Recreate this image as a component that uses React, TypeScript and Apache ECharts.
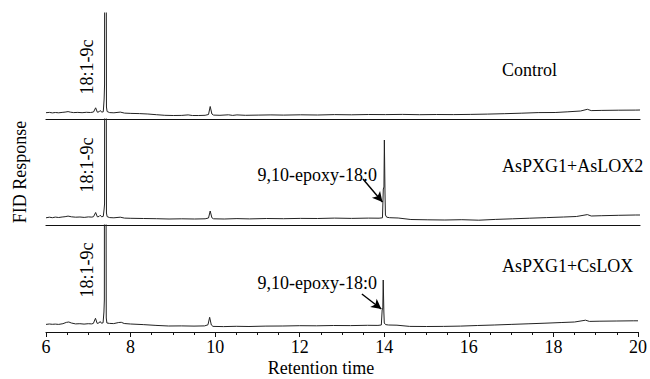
import React, { useEffect, useRef } from "react";
import * as echarts from "echarts";

const xMin = 6;
const xMax = 20;
const xStep = 2;

const panelNames = ["Control", "AsPXG1+AsLOX2", "AsPXG1+CsLOX"];
const peakLabel = "18:1-9c";
const epoxyLabel = "9,10-epoxy-18:0";
const yAxisTitle = "FID Response";
const xAxisTitle = "Retention time";

const controlTrace: [number, number][] = [
  [6.0, 6.3], [6.08, 6.6], [6.15, 6.1], [6.22, 6.5], [6.3, 6.2], [6.38, 6.6], [6.45, 6.9], [6.52, 7.4],
  [6.58, 6.8], [6.65, 6.4], [6.75, 6.6], [6.85, 6.3], [6.95, 6.7], [7.05, 6.5], [7.12, 7.0], [7.17, 11.2],
  [7.21, 6.8], [7.25, 7.2], [7.28, 8.5], [7.31, 6.9], [7.35, 7.2], [7.37, 20], [7.38, 34], [7.385, 300],
  [7.415, 300], [7.425, 12], [7.44, 7.5], [7.5, 6.4], [7.6, 6.2], [7.75, 6.9], [7.85, 5.9], [8.0, 5.6],
  [8.2, 5.4], [8.4, 5.0], [8.6, 4.3], [8.8, 3.7], [9.0, 3.5], [9.2, 3.6], [9.35, 4.1], [9.45, 3.5],
  [9.6, 3.5], [9.75, 3.7], [9.83, 4.5], [9.87, 12.5], [9.91, 5.0], [9.95, 3.9], [10.1, 3.7], [10.3, 4.2],
  [10.4, 3.6], [10.5, 4.1], [10.7, 3.7], [11.0, 3.9], [11.3, 4.1], [11.6, 3.9], [12.0, 4.2], [12.4, 4.0],
  [12.8, 4.4], [13.2, 4.2], [13.6, 4.5], [14.0, 4.4], [14.4, 4.6], [14.8, 4.3], [15.2, 4.5], [15.6, 4.4],
  [16.0, 4.6], [16.4, 4.9], [16.8, 5.3], [17.2, 5.8], [17.6, 6.4], [18.0, 6.5], [18.3, 7.2], [18.6, 8.0],
  [18.76, 9.7], [18.85, 8.4], [19.1, 8.6], [19.5, 8.8], [19.9, 8.9], [20.0, 9.0],
];

const lox2Trace: [number, number][] = [
  [6.0, 7.2], [6.08, 7.8], [6.15, 7.3], [6.22, 7.9], [6.3, 7.5], [6.38, 8.0], [6.45, 8.3], [6.52, 8.9],
  [6.6, 8.2], [6.7, 7.8], [6.8, 8.0], [6.9, 7.6], [7.0, 8.1], [7.08, 7.9], [7.12, 8.3], [7.17, 12.5],
  [7.21, 8.2], [7.25, 8.5], [7.28, 9.8], [7.31, 8.2], [7.35, 8.6], [7.37, 16], [7.38, 21], [7.385, 300],
  [7.415, 300], [7.425, 12], [7.44, 8.4], [7.5, 7.4], [7.6, 7.2], [7.75, 7.8], [7.85, 6.9], [8.0, 6.7],
  [8.3, 6.5], [8.6, 6.3], [8.9, 6.0], [9.2, 6.2], [9.5, 6.0], [9.75, 6.2], [9.83, 7.0], [9.87, 14],
  [9.91, 7.2], [9.95, 6.2], [10.2, 6.0], [10.5, 6.4], [10.8, 6.1], [11.2, 6.5], [11.6, 6.3], [12.0, 6.6],
  [12.4, 6.5], [12.8, 6.9], [13.2, 6.6], [13.6, 6.9], [13.85, 6.8], [13.93, 7.2], [13.95, 36], [13.965, 38],
  [13.975, 85], [13.99, 32], [14.0, 10], [14.03, 7.8], [14.1, 7.3], [14.3, 7.0], [14.6, 5.5], [15.0, 5.2],
  [15.4, 5.0], [15.8, 5.3], [16.2, 4.8], [16.6, 5.6], [17.0, 6.2], [17.4, 6.8], [17.8, 7.4], [18.2, 8.0],
  [18.5, 8.5], [18.76, 10.4], [18.85, 9.0], [19.1, 9.3], [19.5, 9.7], [19.9, 10.0], [20.0, 10.0],
];

const csloxTrace: [number, number][] = [
  [6.0, 7.6], [6.08, 8.0], [6.15, 7.7], [6.22, 7.9], [6.3, 7.6], [6.4, 8.3], [6.48, 9.6], [6.54, 10],
  [6.6, 9.0], [6.7, 8.1], [6.8, 8.3], [6.9, 7.9], [7.0, 8.3], [7.08, 8.1], [7.12, 8.6], [7.17, 13.7],
  [7.21, 8.6], [7.25, 9.0], [7.28, 10.5], [7.31, 8.8], [7.35, 9.2], [7.37, 20], [7.38, 32], [7.385, 300],
  [7.415, 300], [7.425, 14], [7.44, 9.0], [7.5, 8.6], [7.6, 8.4], [7.72, 9.5], [7.78, 9.7], [7.85, 8.5],
  [8.0, 8.0], [8.3, 7.4], [8.6, 6.6], [8.9, 6.0], [9.2, 6.1], [9.5, 5.9], [9.75, 6.1], [9.83, 7.2],
  [9.87, 14.7], [9.91, 7.0], [9.95, 5.6], [10.2, 5.4], [10.5, 5.7], [10.8, 5.5], [11.2, 5.9], [11.6, 6.0],
  [12.0, 6.3], [12.4, 6.2], [12.8, 6.5], [13.2, 6.4], [13.6, 6.7], [13.85, 6.6], [13.93, 7.0], [13.95, 22],
  [13.965, 24], [13.975, 52], [13.99, 20], [14.0, 9], [14.03, 7.4], [14.1, 7.0], [14.3, 6.8], [14.6, 5.6],
  [15.0, 5.5], [15.4, 5.6], [15.8, 5.9], [16.2, 6.5], [16.6, 7.0], [17.0, 7.6], [17.4, 8.2], [17.8, 8.8],
  [18.2, 9.5], [18.5, 10.0], [18.76, 11.8], [18.85, 10.6], [19.1, 10.8], [19.5, 11.0], [19.9, 11.2], [20.0, 11.2],
];

const traces = [controlTrace, lox2Trace, csloxTrace];

// arrow start/end in data coordinates (x: retention time, y: response)
const arrowLox2: [number, number][] = [[13.47, 46], [13.93, 23]];
const arrowCslox: [number, number][] = [[13.47, 38], [13.93, 23]];
const arrows = [null, arrowLox2, arrowCslox];

const FONT = "Liberation Serif, Times New Roman, serif";
const FS = 18;

export default function App() {
  const ref = useRef<HTMLDivElement>(null);
  useEffect(() => {
    if (!ref.current) return;
    const chart = echarts.init(ref.current, undefined, { renderer: "svg" });
    const tops = [13, 119, 225];
    const heights = [106, 106, 107];
    const grids = tops.map((t, i) => ({ left: 46, right: 10, top: t, height: heights[i] }));
    const xAxes = tops.map((_, i) => {
      const last = i === tops.length - 1;
      return {
        type: "value",
        gridIndex: i,
        min: xMin,
        max: xMax,
        interval: xStep,
        axisLine: { show: true, lineStyle: { color: "#111", width: 1.2 } },
        axisTick: { show: last, length: 5, lineStyle: { color: "#111" } },
        minorTick: { show: last, splitNumber: 4, length: 3, lineStyle: { color: "#111" } },
        axisLabel: { show: last, color: "#000", fontFamily: FONT, fontSize: FS, margin: 6 },
        splitLine: { show: false },
      };
    });
    const yAxes = tops.map((_, i) => ({
      type: "value",
      gridIndex: i,
      min: 0,
      max: heights[i],
      show: false,
    }));
    const series = traces.map((data, i) => {
      const arrow = arrows[i];
      return {
        type: "line",
        xAxisIndex: i,
        yAxisIndex: i,
        data,
        showSymbol: false,
        symbol: "none",
        clip: true,
        lineStyle: { color: "#222", width: 1 },
        markLine: arrow
          ? {
              silent: true,
              symbol: ["none", "arrow"],
              symbolSize: [8, 10],
              lineStyle: { color: "#000", width: 1.4, type: "solid" },
              label: { show: false },
              data: [[{ coord: arrow[0] }, { coord: arrow[1] }]],
            }
          : undefined,
      };
    });
    const textStyle = (text: string, extra: any = {}) => ({
      text,
      fontFamily: FONT,
      fontSize: FS,
      fill: "#000",
      ...extra,
    });
    const labelY = [70, 166, 266];
    const peakY = [67, 165, 270];
    const epoxyY = [0, 175, 283];
    const graphic: any[] = [];
    panelNames.forEach((n, i) => {
      graphic.push({ type: "text", x: 502, y: labelY[i], style: textStyle(n, { verticalAlign: "middle" }) });
      graphic.push({
        type: "text",
        x: 87,
        y: peakY[i],
        rotation: Math.PI / 2,
        style: textStyle(peakLabel, { align: "center", verticalAlign: "middle" }),
      });
      if (i > 0) {
        graphic.push({
          type: "text",
          x: 377,
          y: epoxyY[i],
          style: textStyle(epoxyLabel, { align: "right", verticalAlign: "middle" }),
        });
      }
    });
    graphic.push({
      type: "text",
      x: 20,
      y: 172,
      rotation: Math.PI / 2,
      style: textStyle(yAxisTitle, { align: "center", verticalAlign: "middle" }),
    });
    graphic.push({
      type: "text",
      x: 321,
      y: 368,
      style: textStyle(xAxisTitle, { align: "center", verticalAlign: "middle" }),
    });
    chart.setOption({
      animation: false,
      backgroundColor: "#fff",
      grid: grids,
      xAxis: xAxes,
      yAxis: yAxes,
      series,
      graphic,
    });
    return () => chart.dispose();
  }, []);
  return <div ref={ref} style={{ width: 650, height: 379, position: "absolute", left: 0, top: 0 }} />;
}
